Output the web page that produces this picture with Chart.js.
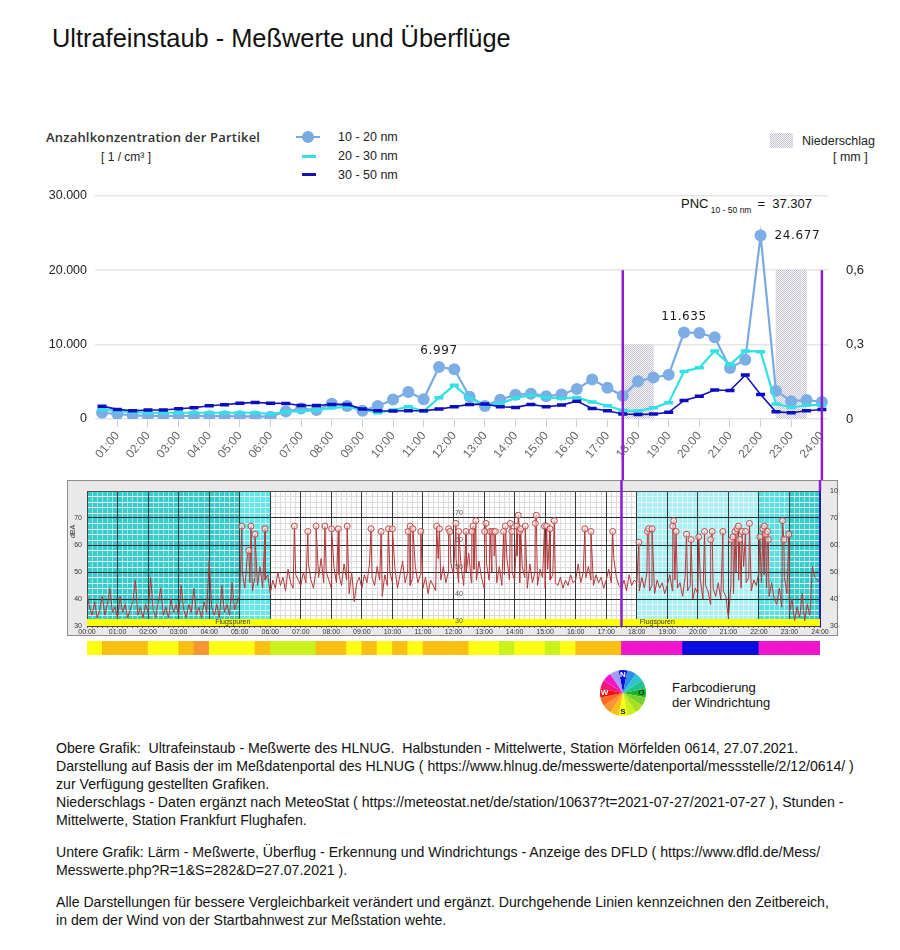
<!DOCTYPE html>
<html>
<head>
<meta charset="utf-8">
<script src="https://cdn.jsdelivr.net/npm/chart.js@4.4.1/dist/chart.umd.min.js"></script>
<style>
  body { margin: 0; background: #fff; font-family: "Liberation Sans", Arial, sans-serif; color: #111; }
  #page { position: relative; width: 900px; height: 950px; overflow: hidden; }
  .t { position: absolute; white-space: pre; line-height: 1; }
  .note { position: absolute; left: 56px; font-size: 15px; line-height: 18px; white-space: pre; color: #111;
          transform: scaleX(0.94); transform-origin: left top; }
  canvas { position: absolute; }
  .mk { position: absolute; }
</style>
</head>
<body>
<div id="page">
  <div class="t" style="left:52px;top:26px;font-size:25.4px;">Ultrafeinstaub - Meßwerte und Überflüge</div>

  <div class="t" style="left:46px;top:131px;font-size:13px;font-family:'Open Sans';font-weight:600;color:#333;letter-spacing:0.2px;">Anzahlkonzentration der Partikel</div>
  <div class="t" style="left:101px;top:151px;font-size:12px;color:#222;">[ 1 / cm³ ]</div>

  <!-- legend -->
  <div class="mk" style="left:296px;top:136px;width:24px;height:2px;background:#79aae2;"></div>
  <div class="mk" style="left:302px;top:131px;width:12px;height:12px;border-radius:50%;background:#79aae2;"></div>
  <div class="mk" style="left:302px;top:155px;width:14px;height:3px;background:#33e0e6;"></div>
  <div class="mk" style="left:302px;top:173px;width:14px;height:3px;background:#1414b4;"></div>
  <div class="t" style="left:338px;top:131px;font-size:12.5px;color:#222;">10 - 20 nm</div>
  <div class="t" style="left:338px;top:150px;font-size:12.5px;color:#222;">20 - 30 nm</div>
  <div class="t" style="left:338px;top:169px;font-size:12.5px;color:#222;">30 - 50 nm</div>

  <div class="mk" style="left:770px;top:133px;width:23px;height:15px;background:repeating-conic-gradient(#c6c6d4 0 25%, #f5f5f9 0 50%) 0 0/2px 2px;"></div>
  <div class="t" style="left:802px;top:135px;font-size:12.5px;color:#222;">Niederschlag</div>
  <div class="t" style="left:833px;top:151px;font-size:12.5px;color:#222;">[ mm ]</div>

  <div class="t" style="left:681px;top:197px;font-size:13px;color:#111;">PNC<span style="font-size:8.5px;position:relative;top:5px;"> 10 - 50 nm </span> =  <span id="pncTotal"></span></div>

  <canvas id="pnc" width="900" height="310" style="left:0;top:170px;"></canvas>

  <div style="position:absolute;left:67px;top:480px;width:771px;height:156px;box-sizing:border-box;background:#e9e9e9;border:1px solid #8c8c8c;"></div>
  <canvas id="noise" width="771" height="156" style="left:67px;top:480px;"></canvas>

  <canvas id="strip" width="750" height="20" style="left:80px;top:638px;"></canvas>
  <canvas id="rose" width="50" height="50" style="left:598px;top:668px;"></canvas>
  <div class="t" style="left:672px;top:681px;font-size:13px;color:#111;">Farbcodierung</div>
  <div class="t" style="left:672px;top:696px;font-size:13px;color:#111;">der Windrichtung</div>

  <div class="note" style="top:739px;">Obere Grafik:  Ultrafeinstaub - Meßwerte des HLNUG.  Halbstunden - Mittelwerte, Station Mörfelden 0614, 27.07.2021.
Darstellung auf Basis der im Meßdatenportal des HLNUG ( https://www.hlnug.de/messwerte/datenportal/messstelle/2/12/0614/ )
zur Verfügung gestellten Grafiken.
Niederschlags - Daten ergänzt nach MeteoStat ( https://meteostat.net/de/station/10637?t=2021-07-27/2021-07-27 ), Stunden -
Mittelwerte, Station Frankfurt Flughafen.</div>
  <div class="note" style="top:843px;">Untere Grafik: Lärm - Meßwerte, Überflug - Erkennung und Windrichtungs - Anzeige des DFLD ( https://www.dfld.de/Mess/
Messwerte.php?R=1&amp;S=282&amp;D=27.07.2021 ).</div>
  <div class="note" style="top:893px;">Alle Darstellungen für bessere Vergleichbarkeit verändert und ergänzt. Durchgehende Linien kennzeichnen den Zeitbereich,
in dem der Wind von der Startbahnwest zur Meßstation wehte.</div>
</div>

<script>
// ---- upper chart: particle number concentration, half-hour means ----
const halfHours = [0.5, 1, 1.5, 2, 2.5, 3, 3.5, 4, 4.5, 5, 5.5, 6, 6.5, 7, 7.5, 8, 8.5, 9, 9.5, 10, 10.5, 11, 11.5, 12,
                   12.5, 13, 13.5, 14, 14.5, 15, 15.5, 16, 16.5, 17, 17.5, 18, 18.5, 19, 19.5, 20, 20.5, 21, 21.5, 22, 22.5, 23, 23.5, 24];
const pnc10to20 = [840, 670, 490, 420, 400, 400, 400, 380, 380, 360, 350, 310, 1000, 1400, 1200, 2050, 1750, 1100, 1750, 2620, 3640, 2650, 6997, 6680,
                   3000, 1750, 2600, 3250, 3400, 3060, 3300, 4020, 5300, 4200, 3120, 5060, 5580, 5950, 11635, 11550, 10980, 6850, 7950, 24677, 3780, 2400, 2550, 2300];
const pnc20to30 = [1290, 1070, 930, 840, 840, 840, 840, 840, 840, 840, 840, 670, 950, 1070, 1200, 1500, 1640, 1330, 840, 1200, 1640, 1070, 2840, 4530,
                   2760, 1900, 2100, 2800, 3200, 2900, 2760, 2880, 2300, 1780, 1150, 1060, 1500, 2200, 6400, 6900, 9150, 7300, 9150, 9050, 2030, 1550, 1850, 1900];
const pnc30to50 = [1730, 1290, 1110, 1200, 1200, 1380, 1510, 1780, 1910, 2130, 2220, 2130, 2090, 1820, 1820, 1960, 1960, 1330, 1110, 1070, 1110, 1110, 1330, 1640,
                   1960, 2000, 1640, 1560, 1960, 1640, 1870, 2400, 1420, 1110, 670, 620, 660, 900, 2500, 3070, 3900, 3830, 5900, 3300, 960, 840, 1100, 1280];
const labelledPeaks = [11.5, 19.5, 22];
const pncTotal = 37307;

// precipitation, hourly (MeteoStat, Frankfurt Flughafen), mm
const rainHours = [1, 2, 3, 4, 5, 6, 7, 8, 9, 10, 11, 12, 13, 14, 15, 16, 17, 18, 19, 20, 21, 22, 23, 24];
const rainMm    = [0, 0, 0, 0, 0, 0, 0, 0, 0, 0, 0, 0, 0, 0, 0, 0, 0, 0.3, 0, 0, 0, 0, 0.6, 0];

// wind from Startbahn West towards the station
const windPeriod = [17.5, 24];

// ---- lower chart: noise level (dBA), 5-minute samples from 00:00 plus overflight peaks ----
const noiseStepMinutes = 5;
const noiseDb = [
  42, 37, 34, 39, 33, 36, 41, 34, 38, 44, 35, 37,   33, 41, 35, 38, 33, 36, 39, 47, 34, 37, 33, 38,
  35, 48, 36, 33, 39, 44, 34, 37, 33, 40, 35, 38,   34, 45, 36, 33, 38, 35, 44, 34, 37, 33, 39, 35,
  54, 37, 34, 38, 33, 45, 35, 38, 34, 46, 36, 39,   41, 50, 44, 56, 46, 43, 48, 45, 52, 44, 47, 49,
  42, 47, 44, 50, 45, 48, 43, 51, 46, 44, 49, 47,   45, 50, 46, 53, 47, 44, 51, 48, 55, 46, 50, 47,
  44, 52, 46, 49, 45, 53, 47, 42, 50, 39, 46, 48,   44, 49, 46, 53, 48, 45, 52, 47, 41, 49, 45, 50,
  46, 51, 44, 49, 54, 46, 50, 45, 48, 52, 46, 49,   44, 48, 42, 47, 45, 43, 55, 47, 52, 46, 50, 53,
  49, 55, 46, 52, 45, 50, 57, 46, 51, 47, 54, 48,   44, 53, 47, 50, 56, 46, 52, 45, 49, 55, 47, 50,
  47, 56, 46, 52, 48, 44, 53, 46, 50, 45, 51, 48,   44, 51, 47, 49, 46, 45, 48, 44, 47, 45, 49, 46,
  47, 53, 46, 50, 48, 52, 47, 45, 49, 46, 48, 44,   47, 51, 46, 55, 48, 45, 44, 47, 43, 49, 45, 47,
  46, 43, 48, 44, 50, 43, 45, 42, 47, 44, 46, 42,   45, 49, 43, 47, 44, 46, 41, 48, 43, 45, 40, 44,
  42, 47, 40, 45, 43, 38, 44, 41, 46, 40, 43, 41,   33, 45, 42, 50, 47, 44, 52, 46, 48, 43, 47, 45,
  50, 46, 49, 44, 41, 46, 40, 38, 44, 37, 48, 42,   35, 40, 32, 37, 33, 42, 32, 38, 34, 52, 48, 47,
  46
];
const eventHours = [5.07, 5.30, 5.37, 5.50, 5.83, 6.79, 7.23, 7.50, 7.79, 8.01, 8.23, 8.52, 9.30, 9.63, 9.87, 10.00, 10.52, 10.58, 10.67, 10.93,
  11.45, 11.54, 11.84, 11.88, 12.08, 12.17, 12.41, 12.60, 12.64, 12.73, 13.02, 13.06, 13.20, 13.26, 13.32, 13.37, 13.64, 13.70, 13.86, 13.91,
  14.08, 14.12, 14.16, 14.20, 14.35, 14.68, 14.71, 14.98, 15.05, 15.16, 15.30, 16.30, 16.50, 17.21, 18.07, 18.35, 18.39, 18.50, 19.18, 19.21,
  19.29, 19.63, 19.78, 20.03, 20.22, 20.42, 20.47, 20.82, 21.10, 21.15, 21.22, 21.29, 21.33, 21.37, 21.45, 21.56, 21.69, 22.03, 22.13, 22.18,
  22.22, 22.28, 22.31, 22.77, 22.82, 22.98];
const eventDb = [67, 58, 67, 64, 66, 67, 65, 67, 67, 66, 66, 67, 66, 65, 66, 66, 65, 67, 66, 65,
  67, 66, 66, 65, 68, 65, 65, 65, 67, 69, 65, 68, 65, 65, 65, 65, 65, 67, 68, 65,
  67, 71, 65, 66, 67, 68, 71, 67, 67, 66, 69, 66, 65, 65, 61, 65, 66, 66, 67, 69,
  65, 64, 62, 63, 65, 62, 65, 65, 62, 63, 65, 66, 67, 62, 65, 65, 68, 63, 66, 67,
  64, 65, 62, 69, 62, 64];

// background periods of the DFLD plot
const bandFrom = [0, 5, 18, 22, 23];
const bandTo   = [5, 6, 22, 23, 24];
const bandKind = ['night', 'dawn', 'evening', 'late', 'night'];

// wind direction, half-hourly
const windDir = ['S', 'SSW', 'SSW', 'SSW', 'S', 'S', 'SSW', 'SW', 'S', 'S', 'S', 'SSW', 'SSE', 'SSE', 'SSE', 'SSW',
                 'SSW', 'S', 'SSW', 'S', 'SSW', 'S', 'SSW', 'SSW', 'SSW', 'S', 'S', 'SSE', 'S', 'S', 'SSE', 'S',
                 'SSW', 'SSW', 'SSW', 'NW', 'NW', 'NW', 'NW', 'N', 'N', 'N', 'N', 'N', 'NW', 'NW', 'NW', 'NW'];
const roseDirs = ['N', 'NNE', 'NE', 'ENE', 'E', 'ESE', 'SE', 'SSE', 'S', 'SSW', 'SW', 'WSW', 'W', 'WNW', 'NW', 'NNW'];
const roseLetters = { N: 'N', E: 'O', S: 'S', W: 'W' };

// ---- styles ----
const dirColor = {
  N: '#0c0ce0', NNE: '#2a8ee6', NE: '#2cc6d2', ENE: '#20c48c', E: '#16b424', ESE: '#74d22a', SE: '#a8e020', SSE: '#c9f21a',
  S: '#ffff14', SSW: '#fbbf12', SW: '#f59535', WSW: '#ff6a20', W: '#f01212', WNW: '#f4147c', NW: '#f014cc', NNW: '#a59af5'
};
const bandColor = { night: '#36cccc', dawn: '#5fe7ea', evening: '#aaf1f6', late: '#58dfe2' };
const windLineColor = '#8c1ed2';

Chart.defaults.font.family = '"Liberation Sans", Arial, sans-serif';
Chart.defaults.animation = false;

function deNum(v) { return String(v).replace(/\B(?=(\d{3})+(?!\d))/g, '.'); }
function hh(v) { return String(Math.round(v)).padStart(2, '0') + ':00'; }
function noPad(s) { s.paddingLeft = 0; s.paddingRight = 0; }

document.getElementById('pncTotal').textContent = deNum(pncTotal);

// dotted grey fill for the rain bars
const pat = document.createElement('canvas');
pat.width = 2; pat.height = 2;
const pc = pat.getContext('2d');
pc.fillStyle = '#f5f5f9'; pc.fillRect(0, 0, 2, 2);
pc.fillStyle = '#c6c6d4'; pc.fillRect(0, 0, 1, 1); pc.fillRect(1, 1, 1, 1);
const rainFill = pc.createPattern(pat, 'repeat');

const windLinesTop = {
  id: 'windLinesTop',
  afterDraw(chart) {
    const { ctx, scales: { x, y } } = chart;
    ctx.save();
    ctx.strokeStyle = windLineColor;
    ctx.lineWidth = 2.5;
    windPeriod.forEach(h => {
      const px = x.getPixelForValue(h);
      ctx.beginPath();
      ctx.moveTo(px, y.getPixelForValue(20000));
      ctx.lineTo(px, chart.height);
      ctx.stroke();
    });
    ctx.restore();
  }
};

const peakLabels = {
  id: 'peakLabels',
  afterDatasetsDraw(chart) {
    const { ctx } = chart;
    const meta = chart.getDatasetMeta(0);
    const top = Math.max(...pnc10to20);
    ctx.save();
    ctx.font = '12px "DejaVu Sans"';
    ctx.fillStyle = '#1a1a1a';
    ctx.letterSpacing = '0.6px';
    labelledPeaks.forEach(h => {
      const i = halfHours.indexOf(h);
      const pt = meta.data[i];
      const v = pnc10to20[i];
      if (v === top) {
        ctx.textAlign = 'left'; ctx.textBaseline = 'middle';
        ctx.fillText(deNum(v), pt.x + 14, pt.y);
      } else {
        ctx.textAlign = 'center'; ctx.textBaseline = 'bottom';
        ctx.fillText(deNum(v), pt.x, pt.y - 10);
      }
    });
    ctx.restore();
  }
};

new Chart(document.getElementById('pnc'), {
  data: {
    datasets: [
      {
        type: 'line', label: '10 - 20 nm', order: 3,
        data: halfHours.map((h, i) => ({ x: h, y: pnc10to20[i] })),
        borderColor: '#79aae2', backgroundColor: '#79aae2', borderWidth: 2.2,
        pointRadius: 6, pointBorderWidth: 0, pointBackgroundColor: '#7cade4'
      },
      {
        type: 'line', label: '20 - 30 nm', order: 2,
        data: halfHours.map((h, i) => ({ x: h, y: pnc20to30[i] })),
        borderColor: '#33e0e6', backgroundColor: '#33e0e6', borderWidth: 2.2,
        pointStyle: 'line', pointRadius: 4.5, pointBorderWidth: 3.5, pointBorderColor: '#33e0e6'
      },
      {
        type: 'line', label: '30 - 50 nm', order: 1,
        data: halfHours.map((h, i) => ({ x: h, y: pnc30to50[i] })),
        borderColor: '#1414b4', backgroundColor: '#1414b4', borderWidth: 1.6,
        pointStyle: 'line', pointRadius: 4.5, pointBorderWidth: 3.5, pointBorderColor: '#0d0dbf'
      },
      {
        type: 'bar', label: 'Niederschlag', order: 10, yAxisID: 'y2',
        data: rainHours.map((h, i) => ({ x: h, y: rainMm[i] })),
        backgroundColor: rainFill, borderWidth: 0,
        barPercentage: 1, categoryPercentage: 1
      }
    ]
  },
  options: {
    responsive: false,
    layout: { padding: { top: 21, left: 0, right: 0, bottom: 0 } },
    plugins: { legend: { display: false }, tooltip: { enabled: false } },
    scales: {
      x: {
        type: 'linear', min: 0.27, max: 24.2, offset: false,
        afterBuildTicks: s => { s.ticks = rainHours.map(h => ({ value: h })); },
        afterFit: s => { s.height = 61; noPad(s); },
        ticks: { autoSkip: false, minRotation: 50, maxRotation: 50, color: '#666', font: { size: 12 }, padding: 2, callback: v => hh(v) },
        grid: { offset: false, drawOnChartArea: false, drawTicks: true, tickLength: 8, color: '#cfcfcf' },
        border: { display: false }
      },
      y: {
        position: 'left', min: 0, max: 30000,
        afterBuildTicks: s => { s.ticks = [0, 10000, 20000, 30000].map(v => ({ value: v })); },
        afterFit: s => { s.width = 95; },
        ticks: { color: '#222', font: { size: 12.5 }, padding: 8, callback: v => deNum(v) },
        grid: { color: '#e6e6e6', lineWidth: 1.5, drawTicks: false },
        border: { display: false }
      },
      y2: {
        position: 'right', min: 0, max: 0.9,
        afterBuildTicks: s => { s.ticks = [0, 0.3, 0.6].map(v => ({ value: v })); },
        afterFit: s => { s.width = 72; },
        ticks: { color: '#222', font: { size: 13 }, padding: 18, callback: v => String(v).replace('.', ',') },
        grid: { display: false, drawTicks: false },
        border: { display: false }
      }
    }
  },
  plugins: [peakLabels, windLinesTop]
});

// ---- lower chart ----
const noisePoints = noiseDb.map((v, i) => ({ x: i * noiseStepMinutes / 60, y: v }))
  .concat(eventHours.map((h, i) => ({ x: h, y: eventDb[i] })))
  .sort((a, b) => a.x - b.x);

function isHour(v) { return Math.abs(v - Math.round(v)) < 1e-6; }
function inBand(h) {
  for (let i = 0; i < bandFrom.length; i++) if (h >= bandFrom[i] && h <= bandTo[i]) return true;
  return false;
}

const noiseBackdrop = {
  id: 'noiseBackdrop',
  beforeDraw(chart) {
    const { ctx, chartArea: a, scales: { x, y } } = chart;
    ctx.save();
    ctx.fillStyle = '#ffffff';
    ctx.fillRect(a.left, a.top, a.right - a.left, a.bottom - a.top);
    bandFrom.forEach((f, i) => {
      const x0 = x.getPixelForValue(f), x1 = x.getPixelForValue(bandTo[i]);
      ctx.fillStyle = bandColor[bandKind[i]];
      ctx.fillRect(x0, a.top, x1 - x0, a.bottom - a.top);
    });
    // minor dB lines: light grey on white, pale on the shaded periods
    ctx.lineWidth = 1;
    for (let v = 32; v < 80; v += 2) {
      if (v % 10 === 0) continue;
      const py = Math.round(y.getPixelForValue(v)) + 0.5;
      ctx.strokeStyle = '#dcdcdc';
      ctx.beginPath(); ctx.moveTo(a.left, py); ctx.lineTo(a.right, py); ctx.stroke();
      ctx.strokeStyle = 'rgba(255,255,255,0.5)';
      bandFrom.forEach((f, i) => {
        ctx.beginPath(); ctx.moveTo(x.getPixelForValue(f), py); ctx.lineTo(x.getPixelForValue(bandTo[i]), py); ctx.stroke();
      });
    }
    ctx.restore();
  },
  beforeDatasetsDraw(chart) {
    const { ctx, chartArea: a, scales: { x, y } } = chart;
    ctx.save();
    const yTop = y.getPixelForValue(32.6);
    ctx.fillStyle = '#ffff00';
    ctx.fillRect(a.left, yTop, a.right - a.left, a.bottom - yTop);
    ctx.fillStyle = '#333';
    ctx.font = '7px "Liberation Sans"';
    ctx.textBaseline = 'middle';
    [4.2, 18.1].forEach(h => ctx.fillText('Flugspuren', x.getPixelForValue(h), (yTop + a.bottom) / 2));
    ctx.fillStyle = '#555';
    ctx.textBaseline = 'bottom';
    [30, 40, 50, 60, 70].forEach(v => ctx.fillText(String(v), x.getPixelForValue(12.05), y.getPixelForValue(v) - 1));
    ctx.restore();
  },
  afterDraw(chart) {
    const { ctx, scales: { x, y } } = chart;
    ctx.save();
    ctx.strokeStyle = windLineColor;
    ctx.lineWidth = 2.5;
    ctx.beginPath();
    ctx.moveTo(x.getPixelForValue(windPeriod[0]), 0);
    ctx.lineTo(x.getPixelForValue(windPeriod[0]), y.getPixelForValue(30));
    ctx.moveTo(x.getPixelForValue(windPeriod[1]), 0);
    ctx.lineTo(x.getPixelForValue(windPeriod[1]), y.getPixelForValue(80));
    ctx.stroke();
    ctx.fillStyle = '#333';
    ctx.font = '7px "Liberation Sans"';
    ctx.translate(8, y.getPixelForValue(65));
    ctx.rotate(-Math.PI / 2);
    ctx.textAlign = 'center';
    ctx.fillText('dBA', 0, 0);
    ctx.restore();
  }
};

new Chart(document.getElementById('noise'), {
  type: 'line',
  data: {
    datasets: [
      {
        label: 'Überflug', data: eventHours.map((h, i) => ({ x: h, y: eventDb[i] })),
        showLine: false, pointRadius: 3, pointBorderWidth: 1,
        pointBorderColor: '#c24a4a', pointBackgroundColor: 'rgba(255,235,235,0.6)'
      },
      {
        label: 'Pegel', data: noisePoints,
        borderColor: '#b3383a', borderWidth: 1, pointRadius: 0, tension: 0
      }
    ]
  },
  options: {
    responsive: false,
    layout: { padding: { top: 11, left: 0, right: 0, bottom: 0 } },
    plugins: { legend: { display: false }, tooltip: { enabled: false } },
    scales: {
      x: {
        type: 'linear', min: 0, max: 24,
        afterBuildTicks: s => { const t = []; for (let i = 0; i <= 144; i++) t.push({ value: i / 6 }); s.ticks = t; },
        afterFit: s => { s.height = 10; noPad(s); },
        ticks: { autoSkip: false, maxRotation: 0, color: '#333', font: { size: 7 }, padding: 0,
                 callback: v => isHour(v) ? hh(v) : '' },
        grid: {
          drawTicks: true, tickLength: 2,
          color: c => isHour(c.tick.value) ? '#3a3a3a' : (inBand(c.tick.value) ? 'rgba(255,255,255,0.5)' : '#dadada'),
          tickColor: '#666'
        },
        border: { color: '#444' }
      },
      y: {
        position: 'left', min: 30, max: 80,
        afterBuildTicks: s => { s.ticks = [30, 40, 50, 60, 70, 80].map(v => ({ value: v })); },
        afterFit: s => { s.width = 20; },
        ticks: { autoSkip: false, color: '#333', font: { size: 7 }, padding: 5, callback: v => v < 80 ? v : '' },
        grid: { drawTicks: false, color: c => c.tick.value === 80 ? '#555' : '#2a2a2a' },
        border: { color: '#444' }
      },
      y2: {
        position: 'right', min: 30, max: 80,
        afterBuildTicks: s => { s.ticks = [30, 40, 50, 60, 70, 80].map(v => ({ value: v })); },
        afterFit: s => { s.width = 18; },
        ticks: { autoSkip: false, color: '#333', font: { size: 7 }, padding: 2, callback: v => v === 80 ? '100' : v },
        grid: { display: false },
        border: { color: '#1d1da8', width: 2 }
      }
    }
  },
  plugins: [noiseBackdrop]
});

// ---- wind direction strip ----
new Chart(document.getElementById('strip'), {
  type: 'bar',
  data: {
    labels: windDir.map((d, i) => halfHours[i]),
    datasets: [{ data: windDir.map(() => 1), backgroundColor: windDir.map(d => dirColor[d]), borderWidth: 0,
                 barPercentage: 1, categoryPercentage: 1 }]
  },
  options: {
    responsive: false,
    layout: { padding: { left: 7, right: 10, top: 3, bottom: 3 } },
    plugins: { legend: { display: false }, tooltip: { enabled: false } },
    scales: { x: { display: false }, y: { display: false, min: 0, max: 1 } }
  }
});

// ---- wind rose legend ----
const roseLetterPlugin = {
  id: 'roseLetters',
  afterDatasetsDraw(chart) {
    const { ctx } = chart;
    const arc = chart.getDatasetMeta(0).data[0];
    const cx = arc.x, cy = arc.y, r = arc.outerRadius * 0.8;
    ctx.save();
    ctx.font = 'bold 8px "Liberation Sans"';
    ctx.textAlign = 'center'; ctx.textBaseline = 'middle';
    roseDirs.forEach((d, i) => {
      if (!roseLetters[d]) return;
      const ang = -Math.PI / 2 + i * Math.PI / 8;
      ctx.fillStyle = (d === 'N' || d === 'W') ? '#ffffff' : '#222';
      ctx.fillText(roseLetters[d], cx + r * Math.cos(ang), cy + r * Math.sin(ang));
    });
    ctx.restore();
  }
};

new Chart(document.getElementById('rose'), {
  type: 'pie',
  data: {
    labels: roseDirs,
    datasets: [{ data: roseDirs.map(() => 1), backgroundColor: roseDirs.map(d => dirColor[d]), borderWidth: 0 }]
  },
  options: {
    responsive: false,
    rotation: -11.25,
    layout: { padding: 2 },
    plugins: { legend: { display: false }, tooltip: { enabled: false } }
  },
  plugins: [roseLetterPlugin]
});
</script>
</body>
</html>
